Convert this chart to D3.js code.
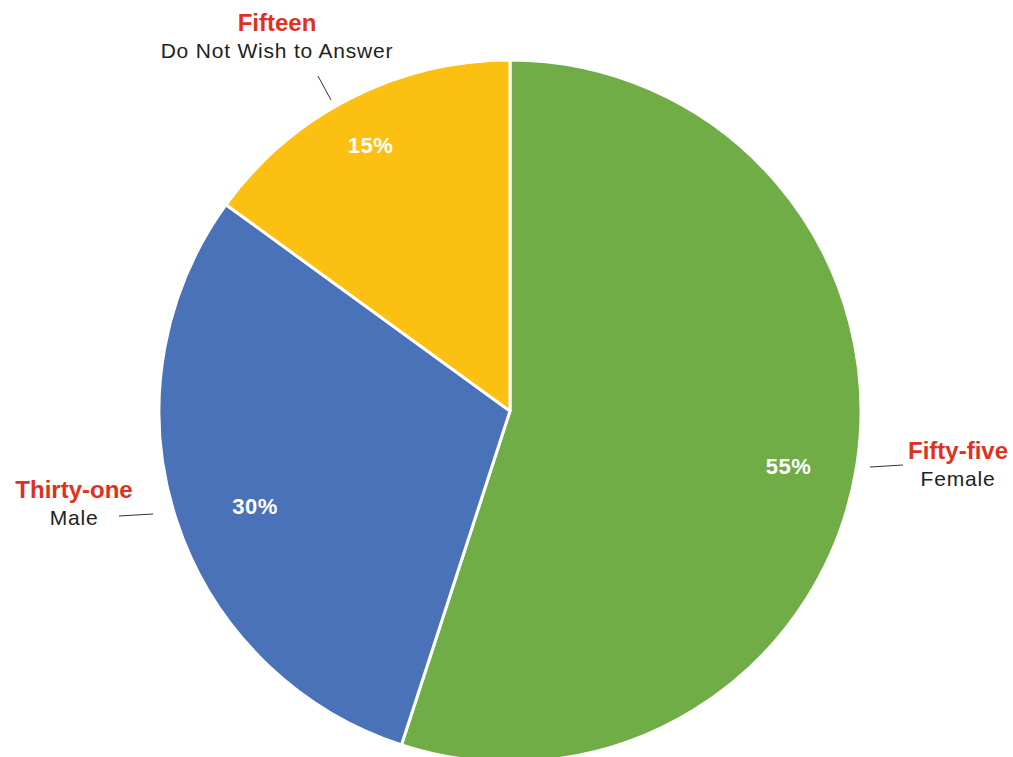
<!DOCTYPE html>
<html>
<head>
<meta charset="utf-8">
<script src="https://cdn.jsdelivr.net/npm/d3@7"></script>
<style>
  body { margin: 0; background: #fff; }
  text { font-family: "Liberation Sans", Arial, sans-serif; }
</style>
</head>
<body>
<div class="chart"></div>
<script>
var categories = ["Female", "Male", "Do Not Wish to Answer"];
var counts = ["Fifty-five", "Thirty-one", "Fifteen"];
var percents = [55, 30, 15];
var colors = ["#70ad47", "#4a72b8", "#fcc012"];

// label placement (text centre, leader line ends) and nudges for the % labels
var labelPos = [
  {x: 958, y: 459, line: [[870, 467], [903, 465]]},
  {x: 74, y: 498, line: [[119, 516], [153, 514]]},
  {x: 277, y: 31, line: [[318, 76], [331, 100]]}
];
var pctShift = [[-3, 11], [16, 7], [-10, -12]];

var width = 1013, height = 757;
var cx = 510, cy = 411, radius = 351;

var svg = d3.select(".chart")
  .append("svg")
    .attr("width", width)
    .attr("height", height);

var g = svg.append("g")
  .attr("transform", "translate(" + cx + "," + cy + ")");

var pie = d3.pie().sort(null).value(function(d) { return d; });
var arcs = pie(percents);

var arc = d3.arc().innerRadius(0).outerRadius(radius);
var labelArc = d3.arc().innerRadius(285).outerRadius(285);

g.selectAll("path")
  .data(arcs)
  .enter()
  .append("path")
  .attr("d", arc)
  .attr("fill", function(d, i) { return colors[i]; })
  .attr("stroke", "#fff")
  .attr("stroke-width", 3)
  .attr("stroke-linejoin", "round");

// percent labels inside slices
g.selectAll(".pct")
  .data(arcs)
  .enter()
  .append("text")
  .attr("class", "pct")
  .attr("transform", function(d, i) {
    var c = labelArc.centroid(d);
    return "translate(" + (c[0] + pctShift[i][0]) + "," + (c[1] + pctShift[i][1]) + ")";
  })
  .attr("text-anchor", "middle")
  .attr("dy", "0.35em")
  .attr("fill", "#fff")
  .style("font-weight", "bold")
  .style("font-size", "22px")
  .style("letter-spacing", "0.5px")
  .text(function(d) { return d.data + "%"; });

// outside labels
labelPos.forEach(function(p, i) {
  svg.append("text")
    .attr("x", p.x)
    .attr("y", p.y)
    .attr("text-anchor", "middle")
    .attr("fill", "#e0301e")
    .style("font-weight", "bold")
    .style("font-size", "24px")
    .text(counts[i]);

  svg.append("text")
    .attr("x", p.x)
    .attr("y", p.y + 27)
    .attr("text-anchor", "middle")
    .attr("fill", "#222")
    .style("font-size", "21px")
    .style("letter-spacing", "0.8px")
    .text(categories[i]);

  svg.append("line")
    .attr("x1", p.line[0][0])
    .attr("y1", p.line[0][1])
    .attr("x2", p.line[1][0])
    .attr("y2", p.line[1][1])
    .attr("stroke", "#333")
    .attr("stroke-width", 1);
});
</script>
</body>
</html>
